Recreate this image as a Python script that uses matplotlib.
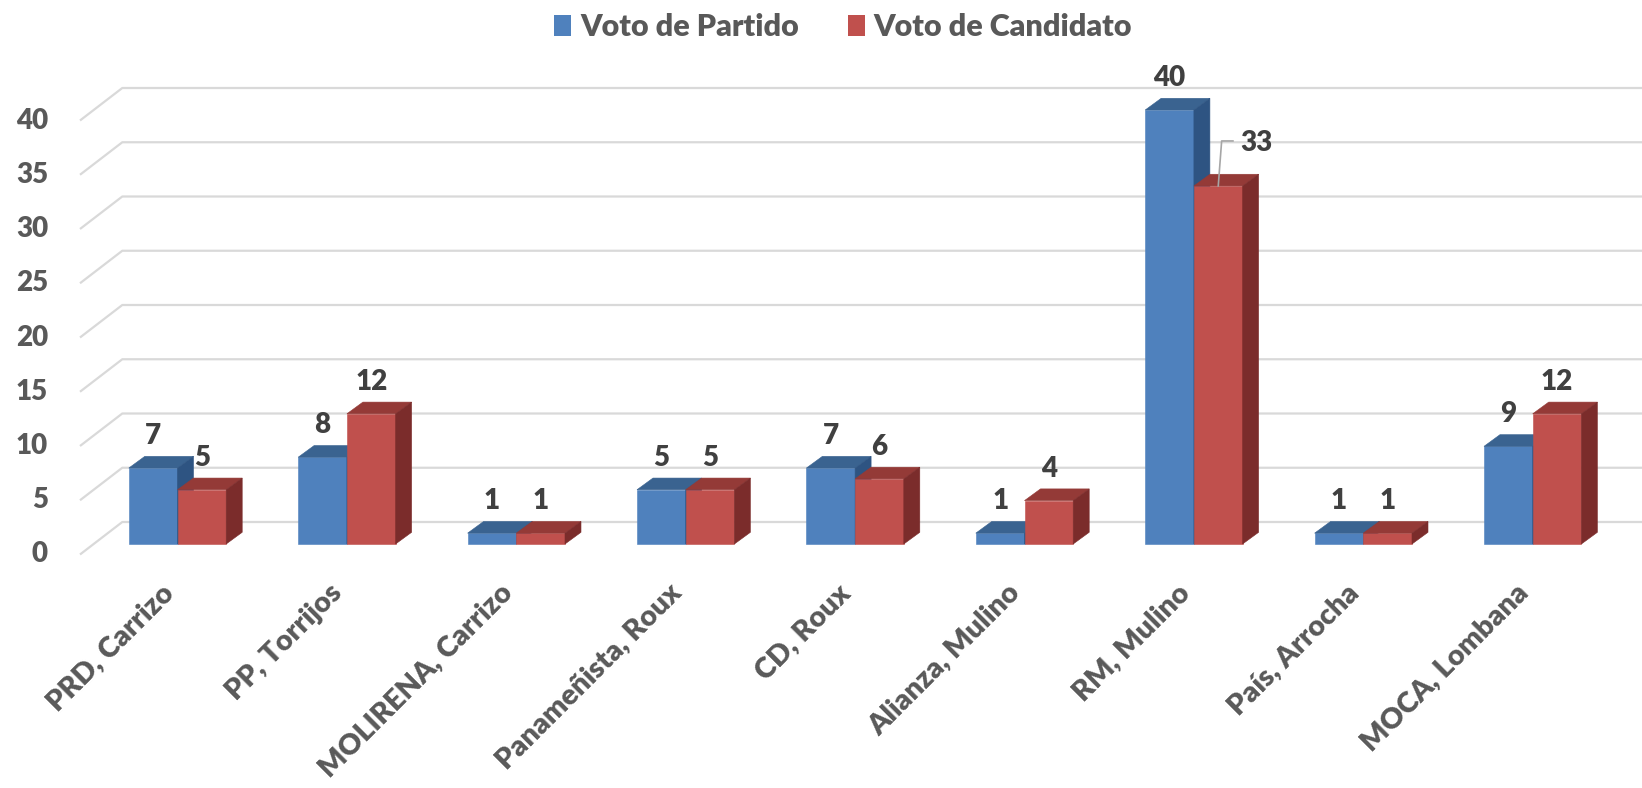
import matplotlib.pyplot as plt
from matplotlib.patches import Patch, Polygon
import numpy as np

plt.rcParams['font.family'] = ['Lato', 'DejaVu Sans']
plt.rcParams['font.weight'] = 'heavy'
fs = 20

categories = ['PRD, Carrizo', 'PP, Torrijos', 'MOLIRENA, Carrizo', 'Panameñista, Roux',
              'CD, Roux', 'Alianza, Mulino', 'RM, Mulino', 'País, Arrocha', 'MOCA, Lombana']
voto_partido = [7, 8, 1, 5, 7, 1, 40, 1, 9]
voto_candidato = [5, 12, 1, 5, 6, 4, 33, 1, 12]
y_ticks = [0, 5, 10, 15, 20, 25, 30, 35, 40]
series_names = ['Voto de Partido', 'Voto de Candidato']

# escala do "pseudo 3D" (pixels por unidade)
W, H = 1642, 788
PX_X = 169.4   # px por categoria
PX_Y = 10.85   # px por unidade de valor
X0_PX = 177.5  # centro da primeira categoria (face frontal)
Y0_PX = 544.0  # base das barras


def px(dx, dy):
    """converte deslocamento em pixels (dy para cima) para unidades de dados"""
    return dx / PX_X, dy / PX_Y


blue = {'front': '#4F81BD', 'top': '#3A6390', 'side': '#2E5482'}
red = {'front': '#C0504D', 'top': '#943A37', 'side': '#7B2C2B'}
text_color = '#595959'
label_color = '#404040'
grid_color = '#D9D9D9'

bar_w = 48.7 / PX_X
bar_dx, bar_dy = px(16, 11.7)
front_dx, front_dy = px(-13.7, -10.5)
back_dx, back_dy = px(28.6, 22.0)

fig = plt.figure(figsize=(W / 100, H / 100), dpi=100)
ax = fig.add_axes([0, 0, 1, 1])
ax.set_xlim(-X0_PX / PX_X, (W - X0_PX) / PX_X)
ax.set_ylim((Y0_PX - H) / PX_Y, Y0_PX / PX_Y)
ax.axis('off')

# linhas de grade (piso/parede) em perspectiva
x_left = (80 - X0_PX) / PX_X - front_dx
x_right = ax.get_xlim()[1]
for v in y_ticks:
    ax.plot([x_left + front_dx, x_left + back_dx, x_right],
            [v + front_dy, v + back_dy, v + back_dy],
            color=grid_color, lw=1.6, zorder=1, solid_capstyle='butt')
    ax.text(x_left + front_dx - 32 / PX_X, v + front_dy, str(v), ha='right', va='center',
            fontsize=fs, color=text_color)


def draw_bar(x0, v, cols):
    faces = [
        ([(x0, 0), (x0 + bar_w, 0), (x0 + bar_w, v), (x0, v)], cols['front']),
        ([(x0, v), (x0 + bar_w, v), (x0 + bar_w + bar_dx, v + bar_dy), (x0 + bar_dx, v + bar_dy)], cols['top']),
        ([(x0 + bar_w, 0), (x0 + bar_w + bar_dx, bar_dy), (x0 + bar_w + bar_dx, v + bar_dy), (x0 + bar_w, v)], cols['side']),
    ]
    for pts, c in faces:
        ax.add_patch(Polygon(pts, closed=True, facecolor=c, edgecolor=c, lw=0.4, zorder=3))


label_gap = 7.3 / PX_Y + bar_dy
for i, (vp, vc) in enumerate(zip(voto_partido, voto_candidato)):
    draw_bar(i - bar_w, vp, blue)
    draw_bar(i, vc, red)
    ax.text(i - bar_w / 2, vp + label_gap, str(vp), ha='center', va='bottom',
            fontsize=fs, color=label_color, zorder=5)
    if vc < vp and vp - vc > 3:
        # rótulo deslocado com linha guia
        lx = i + bar_w / 2
        ex, ey = px(3.4, 45)
        tx, _ = px(14.7, 0)
        ax.plot([lx, lx + ex, lx + tx], [vc, vc + ey, vc + ey], color='#A6A6A6', lw=1.2, zorder=4)
        ax.text(lx + px(21.7, 0)[0], vc + ey + px(0, -2.5)[1], str(vc), ha='left', va='center',
                fontsize=fs, color=label_color, zorder=5)
    else:
        ax.text(i + bar_w / 2, vc + label_gap, str(vc), ha='center', va='bottom',
                fontsize=fs, color=label_color, zorder=5)

# rótulos das categorias
for i, cat in enumerate(categories):
    ax.text(i - 0.05, -4.1, cat, rotation=45, rotation_mode='anchor', ha='right', va='center',
            fontsize=20.8, color=text_color)

handles = [Patch(facecolor=blue['front']), Patch(facecolor=red['front'])]
fig.legend(handles, series_names, loc='center', bbox_to_anchor=(843 / W, 1 - 27 / H),
           ncol=2, frameon=False, fontsize=22, handlelength=0.56, handleheight=0.7,
           handletextpad=0.3, columnspacing=1.6, labelcolor=text_color)

fig.savefig('out.png', dpi=100)
